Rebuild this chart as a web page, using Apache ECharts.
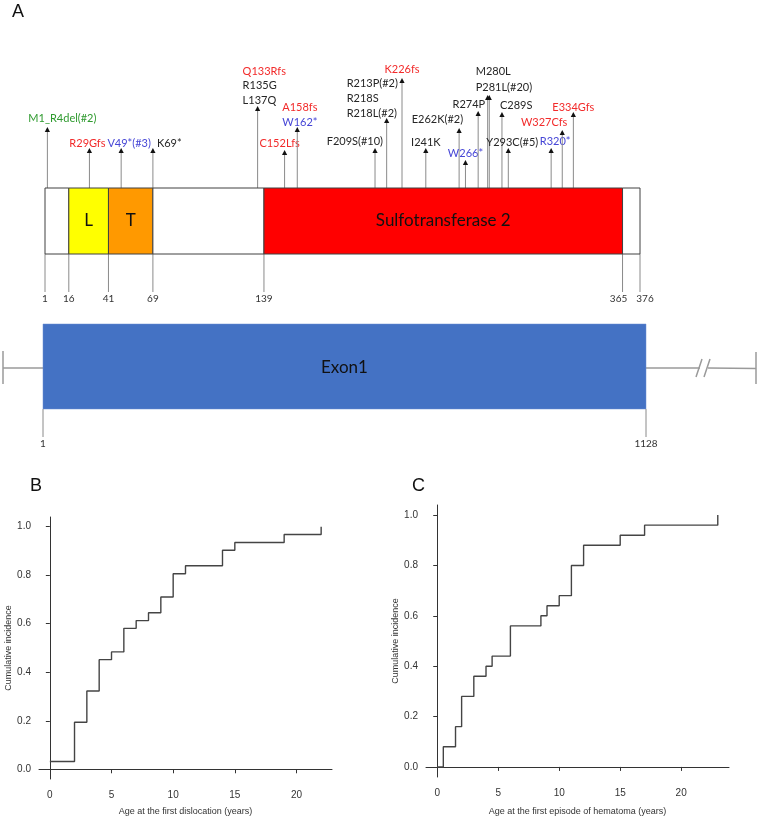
<!DOCTYPE html>
<html><head><meta charset="utf-8">
<script src="https://cdn.jsdelivr.net/npm/echarts@6/dist/echarts.min.js"></script>
<style>html,body{margin:0;padding:0;background:#fff}#c{width:760px;height:820px}</style>
</head><body><div id="c"></div>
<script>
// ================= DATA =================
// Panel A: protein domains (residue numbers)
const domainNames  = ['', 'L', 'T', '', 'Sulfotransferase 2', ''];
const domainStarts = [1, 16, 41, 69, 139, 365];
const domainEnds   = [16, 41, 69, 139, 365, 376];
const proteinTicks = [1, 16, 41, 69, 139, 365, 376];

// Mutations (M1_R4del spans residues 1-4, midpoint used)
const mutationNames = ['M1_R4del(#2)','R29Gfs','V49*(#3)','K69*','Q133Rfs','R135G','L137Q','C152Lfs','A158fs','W162*',
  'F209S(#10)','R213P(#2)','R218S','R218L(#2)','K226fs','I241K','E262K(#2)','W266*','R274P','M280L','P281L(#20)',
  'C289S','Y293C(#5)','R320*','W327Cfs','E334Gfs'];
const mutationResidues = [2.5,29,49,69,133,135,137,152,158,162,209,213,218,218,226,241,262,266,274,280,281,289,293,320,327,334];
const mutationTypes = ['inframe','frameshift','nonsense','missense','frameshift','missense','missense','frameshift','frameshift','nonsense',
  'missense','missense','missense','missense','frameshift','missense','missense','nonsense','missense','missense','missense',
  'missense','missense','nonsense','frameshift','frameshift'];

// Exon
const exonName = 'Exon1';
const exonStart = 1;
const exonEnd = 1128;
const exonTicks = [1, 1128];

// Panel B
const dislocationAges = [0,2,3,4,5,6,7,8,9,10,11,14,15,19,22];
const dislocationIncidence = [0.032,0.194,0.323,0.452,0.484,0.581,0.613,0.645,0.710,0.806,0.839,0.903,0.935,0.968,1.0];
// Panel C
const hematomaAges = [0,0.5,1.5,2,3,4,4.5,6,8.5,9,10,11,12,15,17,23];
const hematomaIncidence = [0,0.08,0.16,0.28,0.36,0.40,0.44,0.56,0.60,0.64,0.68,0.80,0.88,0.92,0.96,1.0];

const incidenceTicks = [0,0.2,0.4,0.6,0.8,1.0];
const ageTicks = [0,5,10,15,20];

// ================= LAYOUT / STYLE =================
const BOX_TOP = 188, BOX_BOTTOM = 254;
const TICK_END = 292, TICK_LABEL_Y = 299;
const tickLabelShift = [0, 0, 0, 0, 0, -4, 5];
const EXON_TOP = 324, EXON_BOTTOM = 409, EXON_MID = 368;
const domainColors = ['#ffffff','#ffff00','#ff9900','#ffffff','#ff0000','#ffffff'];
const typeColors = {inframe:'#2e9a2e', frameshift:'#f22b2b', nonsense:'#4646d6', missense:'#262626'};
const LABEL_FONT = 'Lato, "Open Sans", sans-serif';
const AXIS_FONT = '"Liberation Sans", Arial, sans-serif';
// stems: member mutation indices, arrow top y, label alignment, label x offset, first label y, line spacing
const stemLayout = [
  {m:[0], top:127, align:'center', dx:15, y0:118},
  {m:[1], top:148, align:'center', dx:-2, y0:143},
  {m:[2], top:148, align:'center', dx:8, y0:143},
  {m:[3], top:148, align:'left', dx:4, y0:143},
  {m:[4,5,6], top:106, align:'left', dx:-15, y0:71, dy:14.5},
  {m:[7], top:150, align:'center', dx:-5, y0:143},
  {m:[8,9], top:127, align:'left', dx:-15, y0:107, dy:15},
  {m:[10], top:148, align:'right', dx:8, y0:141},
  {m:[11,12,13], top:118, align:'left', dx:-40, y0:83, dy:15},
  {m:[14], top:78, align:'center', dx:0, y0:69},
  {m:[15], top:148, align:'center', dx:0, y0:142},
  {m:[16], top:128, align:'right', dx:4, y0:119},
  {m:[17], top:160, align:'center', dx:0, y0:153},
  {m:[18], top:111, align:'right', dx:7, y0:104},
  {m:[19], top:95, align:'left', dx:-12, y0:71},
  {m:[20], top:95, align:'left', dx:-13.6, y0:87},
  {m:[21], top:112, align:'left', dx:-2, y0:105},
  {m:[22], top:148, align:'left', dx:-22, y0:142},
  {m:[23], top:148, align:'center', dx:4, y0:141},
  {m:[24], top:130, align:'right', dx:5, y0:122},
  {m:[25], top:112, align:'center', dx:0, y0:107}
];

function txt(text, x, y, size, color, align, font) {
  return {type:'text', style:{text:text, x:x, y:y, fill:color, fontSize:size, fontFamily:font||LABEL_FONT,
    textAlign:align||'center', textVerticalAlign:'middle', align:align||'center', verticalAlign:'middle'}};
}

const chart = echarts.init(document.getElementById('c'), null, {renderer:'canvas'});

const stemData = stemLayout.map((s, i) => {
  const mean = s.m.reduce((a, k) => a + mutationResidues[k], 0) / s.m.length;
  return [mean, i];
});

const option = {
  animation: false,
  backgroundColor: '#ffffff',
  graphic: [
    {type:'text', left:12, top:3, style:{text:'A', fontSize:18, fontFamily:AXIS_FONT, fill:'#111'}},
    {type:'text', left:30, top:477, style:{text:'B', fontSize:18, fontFamily:AXIS_FONT, fill:'#111'}},
    {type:'text', left:412, top:477, style:{text:'C', fontSize:18, fontFamily:AXIS_FONT, fill:'#111'}}
  ],
  grid: [
    {left:45, width:595, top:0, height:300},
    {left:43, width:603, top:300, height:160},
    {left:39, width:293, top:517, height:262},
    {left:426, width:303, top:505, height:272}
  ],
  xAxis: [
    {gridIndex:0, type:'value', min:1, max:376, show:false},
    {gridIndex:1, type:'value', min:exonStart, max:exonEnd, show:false},
    {gridIndex:2, type:'value', min:-0.88, max:22.88, splitLine:{show:false},
      axisLine:{show:true, lineStyle:{color:'#333', width:1}},
      axisTick:{show:true, length:4, customValues:ageTicks, lineStyle:{color:'#333'}},
      axisLabel:{customValues:ageTicks, fontSize:10, color:'#333', fontFamily:AXIS_FONT, margin:11},
      name:'Age at the first dislocation (years)', nameLocation:'middle', nameGap:28,
      nameTextStyle:{fontSize:9, color:'#333', fontFamily:AXIS_FONT}},
    {gridIndex:3, type:'value', min:-0.92, max:23.92, splitLine:{show:false},
      axisLine:{show:true, lineStyle:{color:'#333', width:1}},
      axisTick:{show:true, length:4, customValues:ageTicks, lineStyle:{color:'#333'}},
      axisLabel:{customValues:ageTicks, fontSize:10, color:'#333', fontFamily:AXIS_FONT, margin:11},
      name:'Age at the first episode of hematoma (years)', nameLocation:'middle', nameGap:30,
      nameTextStyle:{fontSize:9, color:'#333', fontFamily:AXIS_FONT}}
  ],
  yAxis: [
    {gridIndex:0, type:'value', min:0, max:1, show:false},
    {gridIndex:1, type:'value', min:0, max:1, show:false},
    {gridIndex:2, type:'value', min:-0.04, max:1.04, splitLine:{show:false},
      axisLine:{show:true, lineStyle:{color:'#333', width:1}},
      axisTick:{show:true, length:4, customValues:incidenceTicks, lineStyle:{color:'#333'}},
      axisLabel:{customValues:incidenceTicks, fontSize:10, color:'#333', fontFamily:AXIS_FONT, margin:8,
        formatter: v => Number(v).toFixed(1)},
      name:'Cumulative incidence', nameLocation:'middle', nameGap:23,
      nameTextStyle:{fontSize:9, color:'#333', fontFamily:AXIS_FONT}},
    {gridIndex:3, type:'value', min:-0.04, max:1.04, splitLine:{show:false},
      axisLine:{show:true, lineStyle:{color:'#333', width:1}},
      axisTick:{show:true, length:4, customValues:incidenceTicks, lineStyle:{color:'#333'}},
      axisLabel:{customValues:incidenceTicks, fontSize:10, color:'#333', fontFamily:AXIS_FONT, margin:8,
        formatter: v => Number(v).toFixed(1)},
      name:'Cumulative incidence', nameLocation:'middle', nameGap:24,
      nameTextStyle:{fontSize:9, color:'#333', fontFamily:AXIS_FONT}}
  ],
  series: [
    // protein boundary ticks
    {type:'custom', xAxisIndex:0, yAxisIndex:0, silent:true, clip:false,
      data: proteinTicks.map((t, i) => [t, i]),
      renderItem: (params, api) => {
        const x = api.coord([api.value(0), 0])[0];
        return {type:'group', children:[
          {type:'line', shape:{x1:x, y1:BOX_BOTTOM, x2:x, y2:TICK_END}, style:{stroke:'#8a8a8a', lineWidth:1}},
          txt(String(api.value(0)), x + tickLabelShift[api.value(1)], TICK_LABEL_Y, 10, '#333', 'center')
        ]};
      }},
    // stems
    {type:'custom', xAxisIndex:0, yAxisIndex:0, silent:true, clip:false,
      data: stemData,
      renderItem: (params, api) => {
        const s = stemLayout[api.value(1)];
        const x = api.coord([api.value(0), 0])[0];
        const children = [
          {type:'line', shape:{x1:x, y1:BOX_TOP, x2:x, y2:s.top+4}, style:{stroke:'#8a8a8a', lineWidth:1}},
          {type:'polygon', shape:{points:[[x, s.top], [x-2.6, s.top+5], [x+2.6, s.top+5]]}, style:{fill:'#111'}}
        ];
        s.m.forEach((k, j) => {
          children.push(txt(mutationNames[k], x + s.dx, s.y0 + j*(s.dy||15), 11,
            typeColors[mutationTypes[k]], s.align));
        });
        return {type:'group', children};
      }},
    // domains
    {type:'custom', xAxisIndex:0, yAxisIndex:0, silent:true, clip:false,
      data: domainStarts.map((s, i) => [s, domainEnds[i], i]),
      renderItem: (params, api) => {
        const i = api.value(2);
        const x1 = api.coord([api.value(0), 0])[0];
        const x2 = api.coord([api.value(1), 0])[0];
        const ch = [{type:'rect', shape:{x:x1, y:BOX_TOP, width:x2-x1, height:BOX_BOTTOM-BOX_TOP},
          style:{fill:domainColors[i], stroke:'#404040', lineWidth:1}}];
        if (domainNames[i]) ch.push(txt(domainNames[i], (x1+x2)/2, (BOX_TOP+BOX_BOTTOM)/2, 17, '#111', 'center'));
        return {type:'group', children:ch};
      }},
    // exon
    {type:'custom', xAxisIndex:1, yAxisIndex:1, silent:true, clip:false,
      data: [[exonStart, exonEnd]],
      renderItem: (params, api) => {
        const x1 = api.coord([api.value(0), 0])[0];
        const x2 = api.coord([api.value(1), 0])[0];
        const g = '#9a9a9a';
        return {type:'group', children:[
          {type:'line', shape:{x1:3, y1:EXON_MID, x2:x1, y2:EXON_MID}, style:{stroke:g, lineWidth:1.5}},
          {type:'line', shape:{x1:3, y1:351, x2:3, y2:384}, style:{stroke:g, lineWidth:1.5}},
          {type:'line', shape:{x1:x2, y1:EXON_MID, x2:700, y2:EXON_MID}, style:{stroke:g, lineWidth:1.5}},
          {type:'line', shape:{x1:708, y1:EXON_MID, x2:756, y2:EXON_MID+0.5}, style:{stroke:g, lineWidth:1.5}},
          {type:'line', shape:{x1:696, y1:377, x2:702, y2:359}, style:{stroke:g, lineWidth:1.5}},
          {type:'line', shape:{x1:704, y1:377, x2:710, y2:359}, style:{stroke:g, lineWidth:1.5}},
          {type:'line', shape:{x1:756, y1:352, x2:756, y2:384}, style:{stroke:g, lineWidth:1.5}},
          {type:'rect', shape:{x:x1, y:EXON_TOP, width:x2-x1, height:EXON_BOTTOM-EXON_TOP},
            style:{fill:'#4472c4', stroke:'#6b8fd0', lineWidth:0.5}},
          txt(exonName, (x1+x2)/2, EXON_MID, 17, '#111', 'center')
        ]};
      }},
    // exon ticks
    {type:'custom', xAxisIndex:1, yAxisIndex:1, silent:true, clip:false,
      data: exonTicks.map(t => [t]),
      renderItem: (params, api) => {
        const x = api.coord([api.value(0), 0])[0];
        return {type:'group', children:[
          {type:'line', shape:{x1:x, y1:EXON_BOTTOM, x2:x, y2:437}, style:{stroke:'#8a8a8a', lineWidth:1}},
          txt(String(api.value(0)), x, 444, 10, '#333', 'center')
        ]};
      }},
    // panel B
    {type:'line', xAxisIndex:2, yAxisIndex:2, step:'end', showSymbol:false, silent:true,
      lineStyle:{color:'#444', width:1.4},
      data: dislocationAges.map((a, i) => [a, dislocationIncidence[i]])},
    // panel C
    {type:'line', xAxisIndex:3, yAxisIndex:3, step:'end', showSymbol:false, silent:true,
      lineStyle:{color:'#444', width:1.4},
      data: hematomaAges.map((a, i) => [a, hematomaIncidence[i]])}
  ]
};
chart.setOption(option);
</script></body></html>
